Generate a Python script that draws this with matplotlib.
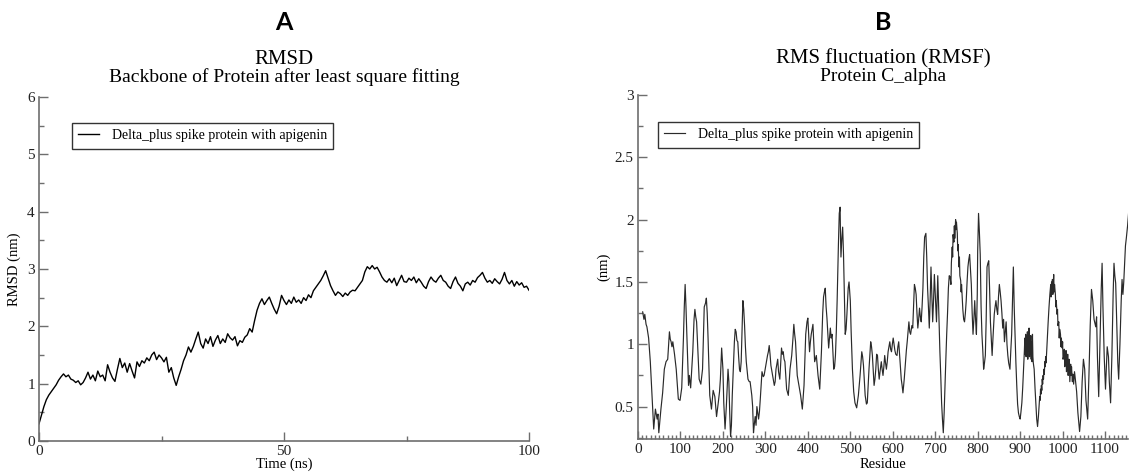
import matplotlib
matplotlib.use("Agg")
import matplotlib.pyplot as plt
from matplotlib.ticker import MultipleLocator, FormatStrFormatter
import numpy as np

# RMSD of the backbone, one value every 0.5 ns (0 .. 100 ns)
rmsd_time = np.arange(0, 100.5, 0.5)
rmsd_nm = [
    0.30, 0.45, 0.60, 0.72, 0.80, 0.86, 0.92, 0.98, 1.06, 1.12,
    1.17, 1.12, 1.15, 1.08, 1.06, 1.02, 1.05, 0.98, 1.02, 1.10,
    1.20, 1.08, 1.15, 1.05, 1.22, 1.12, 1.15, 1.05, 1.33, 1.20,
    1.10, 1.04, 1.25, 1.44, 1.28, 1.36, 1.20, 1.35, 1.22, 1.10,
    1.38, 1.30, 1.40, 1.36, 1.45, 1.40, 1.50, 1.55, 1.42, 1.50,
    1.45, 1.38, 1.46, 1.20, 1.28, 1.10, 0.97, 1.12, 1.25, 1.40,
    1.50, 1.64, 1.55, 1.65, 1.78, 1.90, 1.70, 1.62, 1.78, 1.70,
    1.82, 1.65, 1.76, 1.84, 1.70, 1.78, 1.72, 1.87, 1.80, 1.76,
    1.82, 1.66, 1.75, 1.72, 1.81, 1.85, 1.96, 1.90, 2.10, 2.28,
    2.40, 2.48, 2.38, 2.45, 2.51, 2.40, 2.30, 2.22, 2.35, 2.54,
    2.45, 2.38, 2.46, 2.40, 2.51, 2.42, 2.46, 2.40, 2.50, 2.45,
    2.55, 2.50, 2.62, 2.68, 2.74, 2.80, 2.88, 2.97, 2.84, 2.71,
    2.62, 2.54, 2.60, 2.57, 2.52, 2.58, 2.54, 2.60, 2.63, 2.62,
    2.68, 2.74, 2.80, 2.95, 3.04, 3.00, 3.06, 3.00, 3.03, 2.95,
    2.86, 2.80, 2.77, 2.83, 2.76, 2.84, 2.71, 2.80, 2.89, 2.78,
    2.77, 2.84, 2.80, 2.86, 2.76, 2.83, 2.77, 2.70, 2.66, 2.78,
    2.86, 2.80, 2.77, 2.84, 2.89, 2.80, 2.77, 2.70, 2.66, 2.78,
    2.86, 2.75, 2.70, 2.62, 2.74, 2.77, 2.72, 2.80, 2.77, 2.85,
    2.89, 2.94, 2.84, 2.77, 2.80, 2.75, 2.83, 2.78, 2.74, 2.82,
    2.94, 2.80, 2.74, 2.80, 2.70, 2.78, 2.72, 2.76, 2.68, 2.70,
    2.63,
]

# RMSF of C-alpha atoms per residue
residue = [
    11, 14, 16, 19, 21, 25, 29, 33, 37, 41, 45, 47, 49, 54, 58, 62, 66, 70, 74, 76,
    78, 80, 82, 86, 90, 95, 99, 103, 107, 109, 111, 113, 115, 119, 121, 124, 129, 132, 134, 136,
    138, 141, 144, 148, 152, 156, 159, 161, 163, 165, 169, 173, 177, 181, 185, 189, 192, 194, 197, 200,
    202, 205, 208, 212, 214, 216, 218, 220, 222, 225, 227, 229, 231, 233, 235, 237, 239, 241, 243, 245,
    247, 249, 251, 253, 255, 259, 262, 264, 268, 270, 272, 274, 276, 278, 280, 282, 284, 286, 288, 292,
    295, 297, 301, 305, 307, 309, 311, 313, 317, 321, 323, 325, 327, 329, 331, 334, 336, 338, 340, 342,
    344, 346, 350, 354, 358, 362, 365, 367, 369, 371, 375, 379, 383, 387, 391, 395, 398, 400, 402, 404,
    406, 408, 410, 412, 414, 416, 420, 424, 428, 432, 435, 437, 439, 441, 443, 445, 449, 453, 455, 457,
    461, 463, 465, 467, 469, 472, 474, 476, 477, 478, 480, 482, 484, 486, 488, 490, 492, 495, 497, 499,
    500, 502, 505, 508, 511, 515, 519, 523, 527, 529, 531, 535, 538, 540, 544, 548, 550, 552, 556, 558,
    560, 562, 564, 566, 568, 570, 573, 575, 577, 579, 581, 583, 585, 587, 589, 591, 593, 595, 597, 599,
    601, 603, 605, 607, 610, 612, 614, 616, 618, 620, 622, 624, 627, 630, 632, 634, 636, 638, 640, 642,
    645, 647, 649, 651, 653, 655, 657, 659, 661, 663, 665, 667, 669, 671, 673, 675, 677, 678, 680, 682,
    684, 686, 688, 690, 692, 694, 696, 698, 700, 703, 704, 706, 708, 711, 713, 715, 717, 719, 721, 723,
    725, 727, 729, 731, 733, 735, 737, 738, 740, 741, 742, 744, 745, 746, 748, 749, 750, 752, 753, 754,
    756, 757, 758, 760, 761, 762, 764, 765, 767, 769, 771, 773, 775, 777, 779, 781, 783, 785, 787, 789,
    791, 793, 795, 797, 799, 800, 802, 804, 806, 808, 810, 812, 814, 816, 818, 820, 822, 824, 826, 828,
    830, 832, 834, 836, 839, 841, 843, 845, 847, 849, 851, 853, 855, 857, 859, 861, 863, 865, 867, 869,
    871, 873, 876, 878, 880, 882, 884, 886, 888, 890, 892, 894, 896, 898, 900, 902, 904, 906, 908, 910,
    911, 912, 913, 914, 915, 916, 917, 918, 919, 920, 921, 922, 923, 924, 925, 926, 927, 928, 929, 930,
    931, 933, 935, 937, 939, 941, 943, 945, 946, 947, 948, 949, 950, 951, 952, 953, 954, 955, 956, 957,
    958, 959, 960, 961, 962, 964, 966, 968, 970, 972, 973, 974, 975, 976, 977, 979, 980, 981, 983, 984,
    985, 987, 988, 989, 991, 992, 993, 995, 996, 997, 999, 1000, 1001, 1003, 1004, 1005, 1007, 1008, 1009, 1011,
    1012, 1013, 1015, 1016, 1017, 1019, 1020, 1021, 1023, 1024, 1026, 1028, 1030, 1033, 1036, 1040, 1043, 1046, 1049, 1052,
    1055, 1059, 1062, 1065, 1068, 1071, 1074, 1078, 1080, 1082, 1085, 1088, 1091, 1093, 1095, 1098, 1101, 1103, 1105, 1108,
    1110, 1113, 1116, 1119, 1121, 1123, 1125, 1128, 1130, 1132, 1135, 1138, 1140, 1142, 1144, 1146, 1148, 1150, 1153, 1156,
]
rmsf_nm = [
    1.26, 1.20, 1.24, 1.16, 1.14, 1.05, 0.86, 0.59, 0.32, 0.48, 0.40, 0.44, 0.29, 0.48, 0.61, 0.80, 0.86, 0.88, 1.10, 1.04,
    1.02, 0.98, 1.02, 0.92, 0.80, 0.56, 0.55, 0.65, 1.05, 1.30, 1.48, 1.30, 1.08, 0.67, 0.75, 0.65, 0.94, 1.20, 1.28, 1.22,
    1.18, 0.95, 0.72, 0.68, 0.80, 1.30, 1.33, 1.37, 1.25, 1.05, 0.59, 0.48, 0.63, 0.58, 0.42, 0.53, 0.62, 0.72, 0.97, 0.80,
    0.53, 0.32, 0.50, 0.80, 0.70, 0.45, 0.26, 0.35, 0.59, 0.85, 1.02, 1.12, 1.10, 1.03, 1.02, 0.90, 0.80, 0.78, 0.86, 1.10,
    1.35, 1.28, 1.15, 0.98, 0.86, 0.72, 0.70, 0.70, 0.59, 0.50, 0.29, 0.36, 0.42, 0.35, 0.50, 0.45, 0.40, 0.46, 0.56, 0.78,
    0.74, 0.75, 0.83, 0.91, 0.94, 0.99, 0.92, 0.83, 0.75, 0.67, 0.70, 0.80, 0.84, 0.88, 0.78, 0.72, 0.85, 0.97, 0.92, 0.94,
    0.88, 0.86, 0.64, 0.59, 0.80, 0.91, 1.05, 1.16, 1.08, 1.02, 0.75, 0.67, 0.59, 0.48, 0.67, 1.08, 1.18, 1.21, 1.08, 0.94,
    1.02, 1.08, 1.12, 1.16, 1.00, 0.86, 0.91, 0.75, 0.64, 0.94, 1.25, 1.38, 1.42, 1.45, 1.30, 1.21, 0.97, 1.13, 1.05, 1.08,
    0.80, 0.82, 0.91, 1.10, 1.35, 1.80, 2.05, 2.10, 1.85, 1.70, 1.85, 1.94, 1.72, 1.40, 1.08, 1.12, 1.24, 1.45, 1.50, 1.40,
    1.35, 1.10, 0.80, 0.62, 0.53, 0.49, 0.59, 0.75, 0.94, 0.90, 0.83, 0.59, 0.52, 0.53, 0.80, 1.02, 0.98, 0.91, 0.67, 0.72,
    0.80, 0.92, 0.91, 0.80, 0.72, 0.78, 0.86, 0.80, 0.75, 0.82, 0.91, 0.85, 0.80, 0.86, 0.94, 0.98, 1.02, 0.96, 0.94, 1.00,
    1.05, 1.00, 0.95, 0.92, 0.91, 0.98, 1.02, 0.92, 0.83, 0.72, 0.67, 0.61, 0.72, 0.86, 0.95, 1.02, 1.10, 1.18, 1.10, 1.08,
    1.15, 1.13, 1.30, 1.48, 1.45, 1.40, 1.25, 1.13, 1.20, 1.29, 1.22, 1.18, 1.30, 1.45, 1.70, 1.86, 1.88, 1.89, 1.70, 1.45,
    1.30, 1.13, 1.35, 1.62, 1.40, 1.18, 1.35, 1.56, 1.40, 1.18, 1.30, 1.55, 1.30, 0.94, 0.75, 0.53, 0.40, 0.29, 0.45, 0.67,
    0.88, 1.08, 1.25, 1.45, 1.55, 1.54, 1.48, 1.65, 1.78, 1.70, 1.88, 1.82, 1.95, 1.85, 2.00, 1.92, 1.98, 1.89, 1.75, 1.80,
    1.62, 1.70, 1.55, 1.51, 1.42, 1.48, 1.35, 1.28, 1.20, 1.18, 1.25, 1.35, 1.50, 1.62, 1.68, 1.72, 1.60, 1.48, 1.25, 1.08,
    1.20, 1.35, 1.20, 1.08, 1.40, 1.75, 2.05, 1.90, 1.72, 1.30, 1.08, 0.95, 0.80, 0.85, 0.91, 1.20, 1.62, 1.65, 1.67, 1.45,
    1.18, 1.05, 0.91, 1.05, 1.24, 1.30, 1.35, 1.28, 1.24, 1.38, 1.48, 1.42, 1.35, 1.25, 1.13, 1.20, 1.02, 1.10, 1.18, 1.00,
    0.91, 0.85, 0.80, 0.95, 1.08, 1.35, 1.62, 1.30, 1.08, 0.85, 0.67, 0.52, 0.45, 0.42, 0.40, 0.46, 0.53, 0.65, 0.80, 0.95,
    1.05, 0.92, 1.08, 0.90, 1.06, 0.93, 1.10, 0.88, 1.04, 0.95, 1.13, 0.90, 1.05, 0.92, 1.07, 0.88, 1.02, 0.86, 1.08, 0.90,
    0.85, 0.80, 0.65, 0.53, 0.40, 0.34, 0.42, 0.53, 0.58, 0.55, 0.64, 0.60, 0.67, 0.63, 0.72, 0.68, 0.75, 0.72, 0.80, 0.76,
    0.86, 0.82, 0.90, 0.85, 0.91, 1.05, 1.18, 1.30, 1.40, 1.48, 1.38, 1.50, 1.42, 1.52, 1.40, 1.56, 1.42, 1.48, 1.40, 1.30,
    1.35, 1.24, 1.28, 1.15, 1.18, 1.05, 1.12, 1.08, 0.98, 1.05, 0.97, 1.02, 0.88, 0.91, 0.96, 0.82, 0.86, 0.95, 0.78, 0.80,
    0.92, 0.75, 0.88, 0.83, 0.70, 0.84, 0.75, 0.82, 0.70, 0.76, 0.68, 0.78, 0.72, 0.62, 0.45, 0.30, 0.42, 0.70, 0.88, 0.80,
    0.55, 0.40, 0.75, 1.15, 1.44, 1.35, 1.20, 1.14, 1.22, 0.90, 0.58, 1.00, 1.45, 1.65, 1.30, 0.90, 0.64, 0.80, 0.98, 0.90,
    0.70, 0.53, 0.90, 1.40, 1.65, 1.55, 1.49, 1.10, 0.85, 0.72, 1.00, 1.35, 1.52, 1.40, 1.50, 1.65, 1.79, 1.85, 1.95, 2.08,
]

legend_text = "Delta_plus spike protein with apigenin"

W, H = 1129, 474
fig = plt.figure(figsize=(W / 100, H / 100), dpi=100)
plt.rcParams["font.family"] = ["Liberation Serif", "DejaVu Serif"]

spine_col = "#6e6e6e"


def px_axes(left, top, right, bottom):
    return fig.add_axes([left / W, 1 - bottom / H, (right - left) / W, (bottom - top) / H])


def grace_style(ax):
    for side in ("top", "right"):
        ax.spines[side].set_visible(False)
    for side in ("left", "bottom"):
        ax.spines[side].set_color(spine_col)
        ax.spines[side].set_linewidth(1.2)
    ax.tick_params(which="both", direction="in", color=spine_col, width=1.0,
                   labelsize=11, labelcolor="#222222")
    ax.tick_params(which="major", length=6.5, pad=3)
    ax.tick_params(which="minor", length=3.5)


def grace_legend(ax, x, y):
    leg = ax.legend(loc="upper left", bbox_to_anchor=(x / W, 1 - y / H),
                    bbox_transform=fig.transFigure, borderaxespad=0, fontsize=10,
                    fancybox=False, framealpha=1, edgecolor="#333333",
                    handlelength=1.5, handletextpad=0.9, borderpad=0.45)
    leg.get_frame().set_linewidth(1.0)
    return leg


# panel A: RMSD
axA = px_axes(39, 97, 529, 441)
axA.plot(rmsd_time, rmsd_nm, color="black", lw=1.0, label=legend_text)
axA.set_xlim(0, 100)
axA.set_ylim(0, 6)
axA.xaxis.set_major_locator(MultipleLocator(50))
axA.xaxis.set_minor_locator(MultipleLocator(25))
axA.yaxis.set_major_locator(MultipleLocator(1))
axA.yaxis.set_minor_locator(MultipleLocator(0.5))
grace_style(axA)
axA.set_xlabel("Time (ns)", fontsize=10.5)
axA.set_ylabel("RMSD (nm)", fontsize=10.5)
axA.xaxis.set_label_coords(0.5, -0.049)
axA.yaxis.set_label_coords(-0.037, 0.5)
grace_legend(axA, 72, 123)

# panel B: RMSF
axB = px_axes(638, 95, 1128, 439)
axB.plot(residue, rmsf_nm, color="#2a2a2a", lw=0.85, label=legend_text)
axB.set_xlim(0, 1154)
axB.set_ylim(0.24, 3)
axB.xaxis.set_major_locator(MultipleLocator(100))
axB.xaxis.set_minor_locator(MultipleLocator(10))
axB.yaxis.set_major_locator(MultipleLocator(0.5))
axB.yaxis.set_minor_locator(MultipleLocator(0.25))
axB.yaxis.set_major_formatter(FormatStrFormatter("%g"))
grace_style(axB)
axB.tick_params(axis="x", which="major", length=6)
axB.tick_params(axis="x", which="minor", length=3)
axB.set_xlabel("Residue", fontsize=10.5)
axB.set_ylabel("(nm)", fontsize=10.5)
axB.xaxis.set_label_coords(0.5, -0.056)
axB.yaxis.set_label_coords(-0.056, 0.5)
grace_legend(axB, 658, 122)

# panel letters and titles
for cx, letter in ((284, "A"), (883, "B")):
    fig.text(cx / W, 1 - 30 / H, letter, ha="center", va="baseline",
             fontsize=18, fontweight="bold", family=["Lato", "DejaVu Sans"])
fig.text(284 / W, 1 - 64 / H, "RMSD", ha="center", va="baseline", fontsize=15)
fig.text(284 / W, 1 - 82 / H, "Backbone of Protein after least square fitting",
         ha="center", va="baseline", fontsize=14)
fig.text(883 / W, 1 - 63 / H, "RMS fluctuation (RMSF)", ha="center", va="baseline", fontsize=15)
fig.text(883 / W, 1 - 81 / H, "Protein C_alpha", ha="center", va="baseline", fontsize=14)

fig.savefig("out.png", dpi=100)
